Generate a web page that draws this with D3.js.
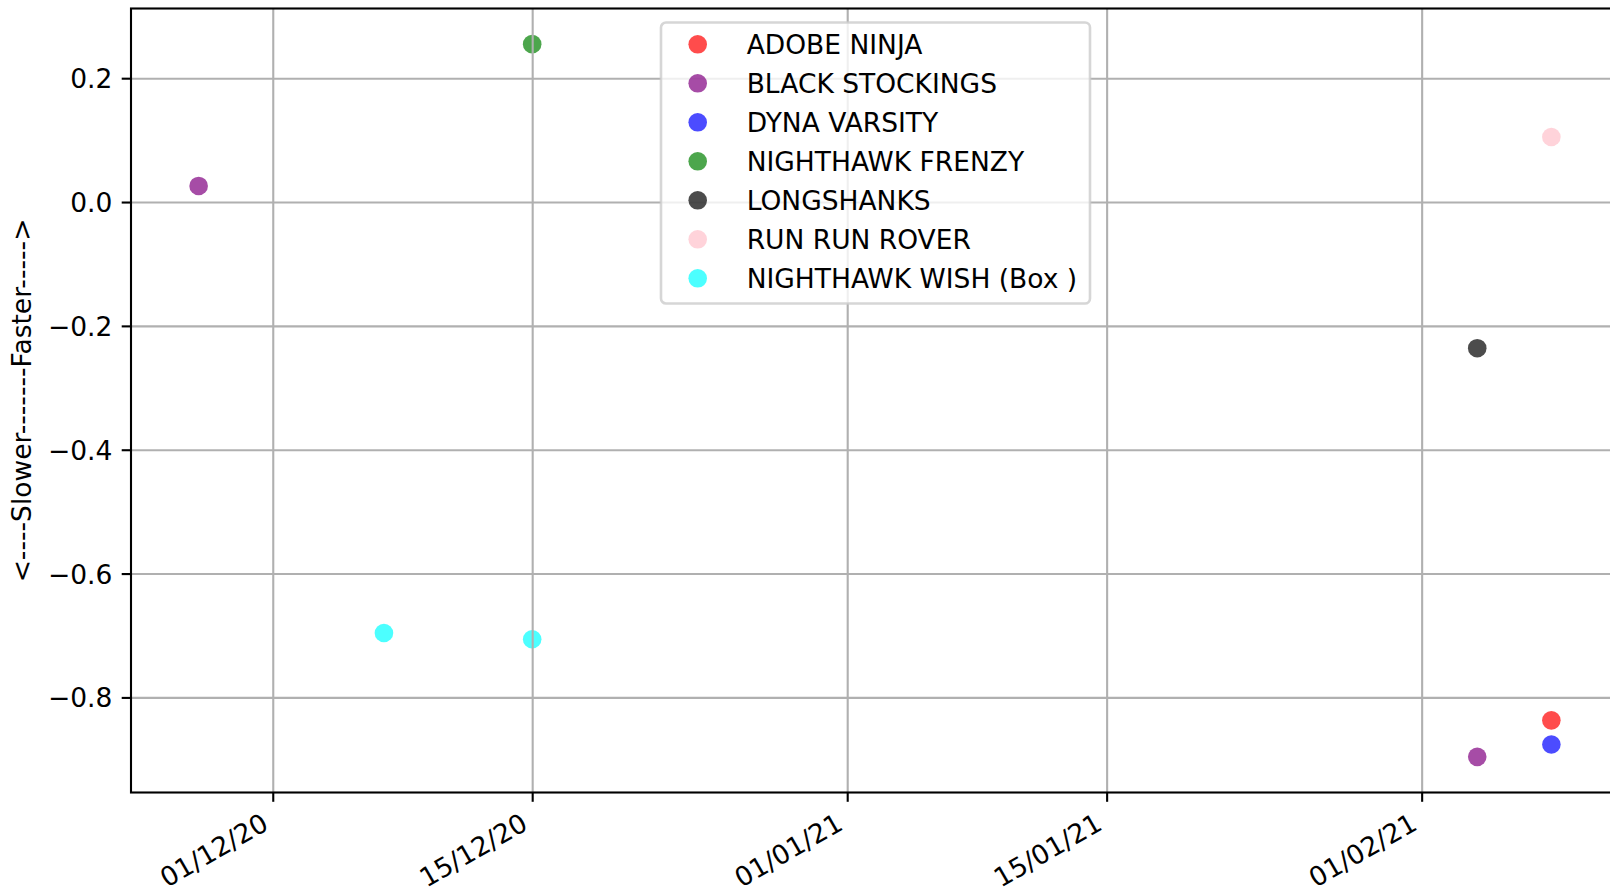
<!DOCTYPE html>
<html>
<head>
<meta charset="utf-8">
<title>Slower / Faster</title>
<script src="https://d3js.org/d3.v7.min.js"></script>
<style>
body { margin: 0; background: #fff; }
svg { display: block; font-family: "DejaVu Sans", sans-serif; }
.grid line { stroke: #b0b0b0; stroke-width: 2.1px; }
.grid path { display: none; }
.axis path { display: none; }
.axis line { stroke: #000; stroke-width: 2.1px; }
.axis text { fill: #000; font-size: 26.5px; font-family: "DejaVu Sans", sans-serif; }
</style>
</head>
<body>
<div id="chart"></div>
<script>

// series, in legend order
var names = ["ADOBE NINJA", "BLACK STOCKINGS", "DYNA VARSITY", "NIGHTHAWK FRENZY",
             "LONGSHANKS", "RUN RUN ROVER", "NIGHTHAWK WISH (Box )"];
var colors = ["red", "purple", "blue", "green", "black", "pink", "cyan"];

// one entry per series: dates and values
var dates = [
  ["2021-02-08"],
  ["2020-11-27", "2021-02-04"],
  ["2021-02-08"],
  ["2020-12-15"],
  ["2021-02-04"],
  ["2021-02-08"],
  ["2020-12-07", "2020-12-15"]
];
var values = [
  [-0.837],
  [0.026, -0.896],
  [-0.876],
  [0.255],
  [-0.236],
  [0.105],
  [-0.696, -0.706]
];

var xTicks = ["2020-12-01", "2020-12-15", "2021-01-01", "2021-01-15", "2021-02-01"];
var yTicks = [-0.8, -0.6, -0.4, -0.2, 0.0, 0.2];
var yLabel = "<----Slower-------Faster----->";

var parseDate = d3.timeParse("%Y-%m-%d");
var fmtDate = d3.timeFormat("%d/%m/%y");
var fmtY = d3.format(".1f");

// set the dimensions and margins of the graph
var W = 1610, H = 890;
var margin = {top: 8.5, left: 131, right: -9, bottom: 97.5};
var width = W - margin.left - margin.right,
    height = H - margin.top - margin.bottom;

// flatten points
var points = [];
dates.forEach(function(ds, i) {
  ds.forEach(function(d, j) {
    points.push({series: i, date: parseDate(d), value: values[i][j]});
  });
});

// matplotlib-like 5% margins
var xExt = d3.extent(points, function(d) { return d.date; });
var xPad = (xExt[1] - xExt[0]) * 0.05;
var yExt = d3.extent(points, function(d) { return d.value; });
var yPad = (yExt[1] - yExt[0]) * 0.05;

var x = d3.scaleTime()
    .domain([new Date(+xExt[0] - xPad), new Date(+xExt[1] + xPad)])
    .range([0, width]);
var y = d3.scaleLinear()
    .domain([yExt[0] - yPad, yExt[1] + yPad])
    .range([height, 0]);

var svg = d3.select("#chart").append("svg")
    .attr("width", W)
    .attr("height", H);

var g = svg.append("g")
    .attr("transform", "translate(" + margin.left + "," + margin.top + ")");

// points
g.selectAll("circle.pt")
  .data(points)
  .enter().append("circle")
    .attr("class", "pt")
    .attr("cx", function(d) { return x(d.date); })
    .attr("cy", function(d) { return y(d.value); })
    .attr("r", 9.3)
    .attr("fill", function(d) { return colors[d.series]; })
    .attr("fill-opacity", 0.7);

// grid (drawn above the points like matplotlib)
g.append("g")
    .attr("class", "grid")
    .attr("transform", "translate(0," + height + ")")
    .call(d3.axisBottom(x).tickValues(xTicks.map(parseDate)).tickSize(-height).tickFormat(""));
g.append("g")
    .attr("class", "grid")
    .call(d3.axisLeft(y).tickValues(yTicks).tickSize(-width).tickFormat(""));

// axes
var xAxis = g.append("g")
    .attr("class", "axis")
    .attr("transform", "translate(0," + height + ")")
    .call(d3.axisBottom(x).tickValues(xTicks.map(parseDate)).tickSize(9.3).tickFormat(fmtDate));

xAxis.selectAll("text")
    .attr("text-anchor", "end")
    .attr("dy", null)
    .attr("y", 0)
    .attr("transform", "translate(-3.2,36) rotate(-30)");

g.append("g")
    .attr("class", "axis")
    .call(d3.axisLeft(y).tickValues(yTicks).tickSize(9.3).tickPadding(9.3).tickFormat(fmtY))
  .selectAll("text")
    .attr("dy", "0.36em");

// spines
g.append("rect")
    .attr("width", width)
    .attr("height", height)
    .attr("fill", "none")
    .attr("stroke", "#000")
    .attr("stroke-width", 2.1);

// y label
svg.append("text")
    .attr("transform", "translate(31," + (margin.top + height / 2) + ") rotate(-90)")
    .attr("text-anchor", "middle")
    .style("font-size", "26.5px")
    .text(yLabel);

// legend
var lg = svg.append("g").attr("transform", "translate(661,22.5)");
lg.append("rect")
    .attr("width", 429)
    .attr("height", 281)
    .attr("rx", 5)
    .attr("fill", "#fff")
    .attr("fill-opacity", 0.8)
    .attr("stroke", "#cccccc")
    .attr("stroke-opacity", 0.8)
    .attr("stroke-width", 2.6);

var rows = lg.selectAll("g.row")
  .data(names)
  .enter().append("g")
    .attr("class", "row")
    .attr("transform", function(d, i) { return "translate(0," + (21.8 + i * 39) + ")"; });

rows.append("circle")
    .attr("cx", 36.7)
    .attr("r", 9.3)
    .attr("fill", function(d, i) { return colors[i]; })
    .attr("fill-opacity", 0.7);

rows.append("text")
    .attr("x", 85.7)
    .attr("y", 9.7)
    .style("font-size", "26.5px")
    .text(function(d) { return d; });

</script>
</body>
</html>
